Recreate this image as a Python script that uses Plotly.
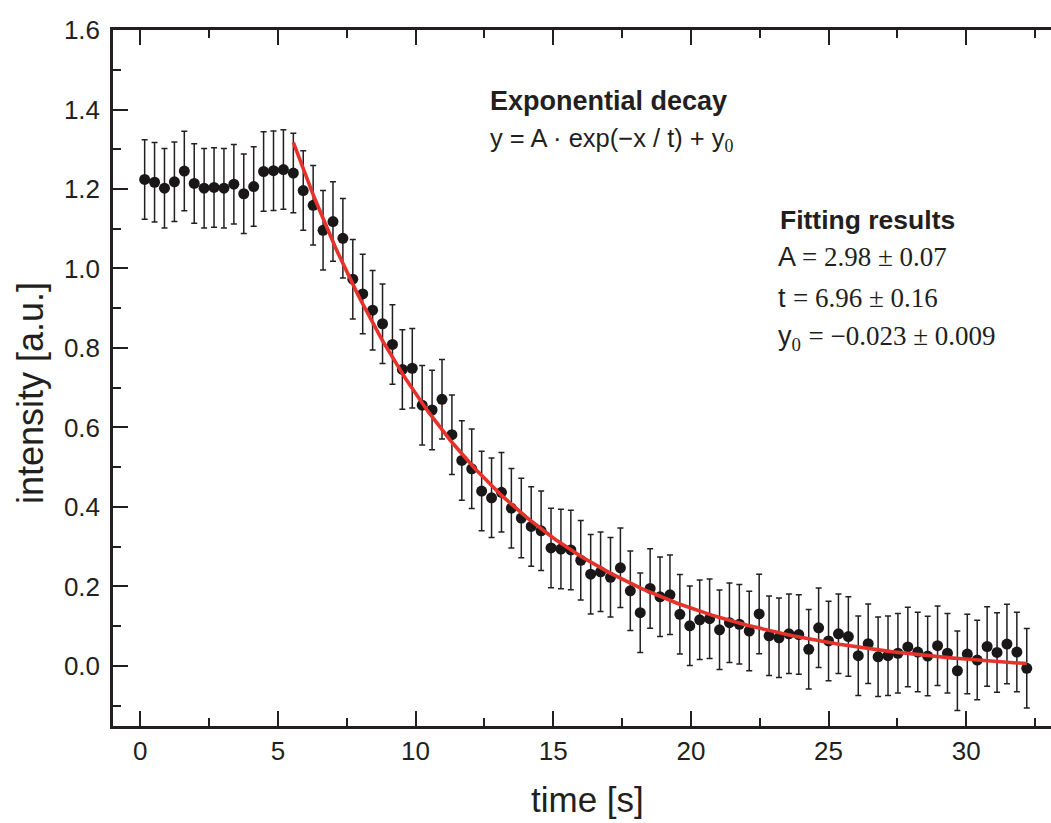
import plotly.graph_objects as go
import numpy as np

# ---- data ----
time_s = [0.16, 0.52, 0.88, 1.24, 1.60, 1.96, 2.32, 2.68, 3.04, 3.40,
          3.76, 4.12, 4.48, 4.84, 5.20, 5.56, 5.92, 6.28, 6.64, 7.00,
          7.36, 7.72, 8.08, 8.44, 8.80, 9.16, 9.52, 9.88, 10.24, 10.60,
          10.96, 11.32, 11.68, 12.04, 12.40, 12.76, 13.12, 13.48, 13.84, 14.20,
          14.56, 14.92, 15.28, 15.64, 16.00, 16.36, 16.72, 17.08, 17.44, 17.80,
          18.16, 18.52, 18.88, 19.24, 19.60, 19.96, 20.32, 20.68, 21.04, 21.40,
          21.76, 22.12, 22.48, 22.84, 23.20, 23.56, 23.92, 24.28, 24.64, 25.00,
          25.36, 25.72, 26.08, 26.44, 26.80, 27.16, 27.52, 27.88, 28.24, 28.60,
          28.96, 29.32, 29.68, 30.04, 30.40, 30.76, 31.12, 31.48, 31.84, 32.20]

intensity = [1.224, 1.217, 1.202, 1.218, 1.245, 1.214, 1.202, 1.204, 1.202, 1.212,
             1.188, 1.206, 1.244, 1.246, 1.249, 1.240, 1.196, 1.159, 1.096, 1.118,
             1.076, 0.973, 0.936, 0.895, 0.861, 0.809, 0.746, 0.749, 0.656, 0.644,
             0.671, 0.582, 0.517, 0.496, 0.440, 0.423, 0.437, 0.397, 0.372, 0.351,
             0.340, 0.297, 0.294, 0.292, 0.266, 0.231, 0.237, 0.223, 0.247, 0.189,
             0.134, 0.195, 0.174, 0.179, 0.130, 0.101, 0.116, 0.119, 0.091, 0.109,
             0.105, 0.088, 0.131, 0.076, 0.071, 0.081, 0.079, 0.042, 0.096, 0.063,
             0.081, 0.074, 0.026, 0.056, 0.023, 0.026, 0.032, 0.048, 0.035, 0.025,
             0.051, 0.032, -0.012, 0.030, 0.015, 0.049, 0.034, 0.055, 0.035, -0.006]

error = 0.10

# fit parameters shown in the chart
fit_A = 2.98
fit_t = 6.96
fit_y0 = -0.023
fit_start = 5.56
fit_end = 32.20

x_ticks = [0, 5, 10, 15, 20, 25, 30]
y_ticks = [0.0, 0.2, 0.4, 0.6, 0.8, 1.0, 1.2, 1.4, 1.6]

fit_x = np.linspace(fit_start, fit_end, 300)
fit_y = fit_A * np.exp(-fit_x / fit_t) + fit_y0

INK = "#231f20"
RED = "#e5322b"
SANS = "Liberation Sans, Arial, sans-serif"
SERIF = "Liberation Serif, Times New Roman, serif"

fig = go.Figure()
fig.add_trace(go.Scatter(
    x=time_s, y=intensity, mode="markers",
    marker=dict(size=11, color="#1a1718"),
    error_y=dict(type="constant", value=error, color=INK, thickness=1.5, width=3),
    showlegend=False,
))
fig.add_trace(go.Scatter(
    x=fit_x, y=fit_y, mode="lines",
    line=dict(color=RED, width=3.6),
    showlegend=False,
))

L, T, R, B = 113, 30, 1051, 726
W, H = 1051, 823

def px(x):
    return (x - L) / (R - L)

def py(y):
    return (B - y) / (B - T)

def serif(s):
    return f'<span style="font-family:{SERIF}">{s}</span>'

annotations = [
    dict(text="<b>Exponential decay</b>", x=px(488), y=py(101), size=27),
    dict(text="y = A · exp(−x / t) + y<sub>" + serif("0") + "</sub>", x=px(488), y=py(140), size=25.5),
    dict(text="<b>Fitting results</b>", x=px(778), y=py(220), size=26.5),
    dict(text="A " + serif("= 2.98 ± 0.07"), x=px(776), y=py(257), size=27),
    dict(text="t " + serif("= 6.96 ± 0.16"), x=px(776), y=py(298), size=27),
    dict(text="y<sub>" + serif("0") + "</sub> " + serif("= −0.023 ± 0.009"), x=px(776), y=py(338), size=27),
]
for a in annotations:
    fig.add_annotation(
        text=a["text"], x=a["x"], y=a["y"], xref="paper", yref="paper",
        xanchor="left", yanchor="middle", showarrow=False,
        font=dict(family=SANS, size=a["size"], color=INK),
    )

# axis titles
fig.add_annotation(text="time [s]", x=px(587), y=py(799), xref="paper", yref="paper",
                   xanchor="center", yanchor="middle", showarrow=False,
                   font=dict(family=SANS, size=35, color=INK))
fig.add_annotation(text="intensity [a.u.]", x=px(30), y=py(393), xref="paper", yref="paper",
                   xanchor="center", yanchor="middle", showarrow=False, textangle=-90,
                   font=dict(family=SANS, size=36, color=INK))

axis_common = dict(
    showline=True, linecolor=INK, linewidth=2.5,
    ticks="inside", ticklen=15, tickwidth=2, tickcolor=INK,
    showgrid=False, zeroline=False,
    tickfont=dict(family=SANS, size=26, color=INK),
)

fig.update_layout(
    width=W, height=H,
    margin=dict(l=L, r=W - R, t=T, b=H - B),
    paper_bgcolor="white", plot_bgcolor="white",
    xaxis=dict(
        **axis_common,
        range=[-0.99, 33.08], tickvals=x_ticks, ticktext=[str(v) for v in x_ticks],
        mirror="ticks",
        minor=dict(ticks="inside", ticklen=8, tickwidth=2, tickcolor=INK, dtick=2.5, tick0=0),
    ),
    yaxis=dict(
        **axis_common,
        range=[-0.151, 1.6], tickvals=y_ticks, ticktext=[f"{v:.1f}" for v in y_ticks],
        mirror=False, ticklabelstandoff=5,
        minor=dict(ticks="inside", ticklen=8, tickwidth=2, tickcolor=INK, dtick=0.1, tick0=0),
    ),
)

fig.write_html(
    "out.html",
    config={"displayModeBar": False},
    post_script=(
        "document.body.style.margin='0px';"
        "document.body.style.overflow='hidden';"
        "document.documentElement.style.overflow='hidden';"
    ),
)
